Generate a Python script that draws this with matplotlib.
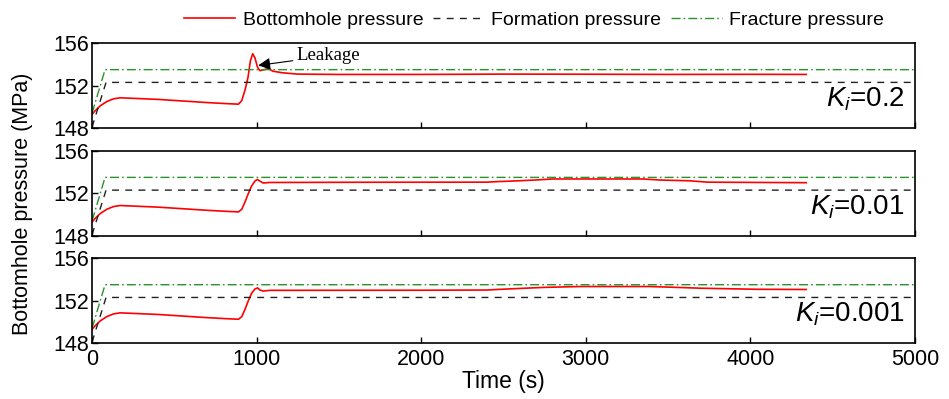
import numpy as np
import matplotlib
matplotlib.use("Agg")
from matplotlib import pyplot as plt

plt.rcParams['font.family'] = ['Liberation Sans', 'DejaVu Sans']
plt.rcParams['mathtext.fontset'] = 'custom'
plt.rcParams['mathtext.it'] = 'Liberation Sans:italic'
plt.rcParams['mathtext.rm'] = 'Liberation Sans'

# shared start-up part of the bottomhole pressure curve
t_early = [0, 20, 50, 90, 130, 170, 250, 400, 550, 700, 820, 890]
p_early = [149.3, 149.65, 150.1, 150.5, 150.75, 150.85, 150.8, 150.7, 150.55, 150.4, 150.3, 150.25]

# Ki = 0.2
t_k1 = [910, 930, 948, 962, 976, 990, 1005, 1020, 1045, 1070, 1100, 1160, 1250, 1500, 2000, 2500, 3000, 3500, 4000, 4340]
p_k1 = [150.6, 151.6, 152.8, 154.3, 155.0, 154.6, 153.75, 153.4, 153.5, 153.6, 153.35, 153.2, 153.08, 153.05, 153.05, 153.08, 153.07, 153.05, 153.06, 153.05]

# Ki = 0.01
t_k2 = [910, 930, 950, 970, 990, 1005, 1020, 1040, 1080, 1600, 2400, 2460, 2580, 2690, 2800, 3350, 3450, 3630, 3740, 4340]
p_k2 = [150.5, 151.2, 152.0, 152.7, 153.15, 153.3, 153.15, 152.97, 153.02, 153.04, 153.05, 153.1, 153.17, 153.25, 153.35, 153.35, 153.25, 153.18, 153.05, 153.0]

# Ki = 0.001
t_k3 = [910, 930, 950, 970, 990, 1006, 1020, 1040, 1080, 2000, 2400, 2460, 2600, 2750, 2965, 3390, 3550, 3700, 4040, 4340]
p_k3 = [150.5, 151.2, 152.0, 152.7, 153.1, 153.2, 153.0, 152.9, 152.97, 152.98, 153.0, 153.05, 153.15, 153.25, 153.33, 153.33, 153.25, 153.17, 153.07, 153.05]

t_form = [0, 85, 5000]
p_form = [148.1, 152.3, 152.3]
t_frac = [0, 79, 5000]
p_frac = [149.4, 153.5, 153.5]

ki_labels = ['0.2', '0.01', '0.001']
curves = [(t_k1, p_k1), (t_k2, p_k2), (t_k3, p_k3)]

fig = plt.figure(figsize=(9.49, 3.99), dpi=100)
left, width = 0.097, 0.867
bottoms = [0.679, 0.409, 0.140]
height = 0.213

axes = []
for i in range(3):
    ax = fig.add_axes([left, bottoms[i], width, height])
    t = t_early + curves[i][0]
    p = p_early + curves[i][1]
    l1, = ax.plot(t, p, color='#ff0000', lw=1.2, label='Bottomhole pressure')
    l2, = ax.plot(t_form, p_form, color='#222222', lw=1.0, dashes=(5, 4.5), label='Formation pressure')
    l3, = ax.plot(t_frac, p_frac, color='#2a922a', lw=1.0, dashes=(6.5, 2.2, 1.2, 2.2), label='Fracture pressure')
    ax.set_xlim(0, 5000)
    ax.set_ylim(148, 156)
    ax.set_yticks([148, 152, 156])
    ax.set_xticks(np.arange(0, 5001, 1000))
    ax.tick_params(direction='in', labelsize=15.5, length=4, width=1)
    ax.tick_params(axis='y', pad=2)
    ax.tick_params(axis='x', pad=4)
    for s in ax.spines.values():
        s.set_linewidth(1.2)
    if i < 2:
        ax.set_xticklabels([])
    ax.text(0.988, 0.34, r'$K_i$=' + ki_labels[i], transform=ax.transAxes,
            ha='right', va='center', fontsize=20)
    axes.append(ax)

axes[0].annotate('Leakage', xy=(1010, 153.9), xytext=(1245, 154.8),
                 fontsize=13.5, family='Liberation Serif', va='center', ha='left',
                 arrowprops=dict(arrowstyle='-|>', color='black', lw=0.8,
                                 mutation_scale=18, shrinkA=1, shrinkB=0))

axes[2].set_xlabel('Time (s)', fontsize=16.5, labelpad=0)
fig.text(0.024, 0.49, 'Bottomhole pressure (MPa)', rotation=90, fontsize=15.5,
         ha='center', va='center')

fig.legend(handles=[l1, l2, l3], loc='upper center', bbox_to_anchor=(0.563, 1.015),
           ncol=3, frameon=False, fontsize=14, handlelength=2.6,
           columnspacing=0.5, handletextpad=0.4)

fig.savefig('out.png', dpi=100)
